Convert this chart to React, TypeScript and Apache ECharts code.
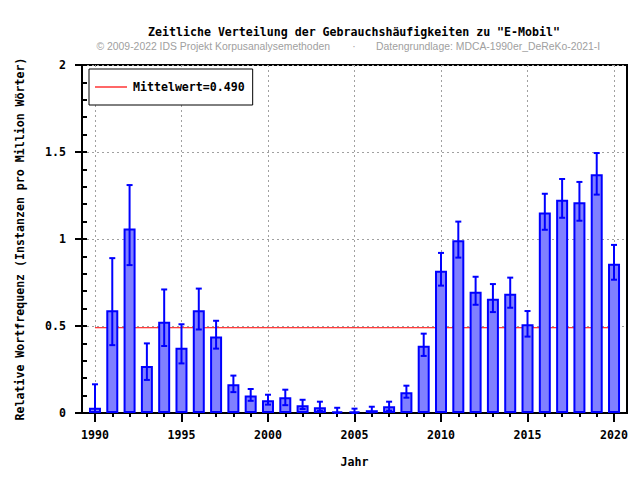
import React, { useEffect, useRef } from "react";
import * as echarts from "echarts";

const years = [1990, 1991, 1992, 1993, 1994, 1995, 1996, 1997, 1998, 1999, 2000, 2001, 2002, 2003, 2004, 2005, 2006, 2007, 2008, 2009, 2010, 2011, 2012, 2013, 2014, 2015, 2016, 2017, 2018, 2019, 2020];
const values = [0.03, 0.59, 1.06, 0.27, 0.525, 0.375, 0.59, 0.44, 0.165, 0.1, 0.073, 0.09, 0.045, 0.033, 0.01, 0.01, 0.016, 0.039, 0.119, 0.387, 0.818, 0.993, 0.697, 0.657, 0.686, 0.51, 1.153, 1.226, 1.211, 1.372, 0.858];
const errLow = [0.005, 0.39, 0.85, 0.19, 0.385, 0.285, 0.48, 0.37, 0.12, 0.07, 0.048, 0.045, 0.023, 0.013, 0.0, 0.0, 0.004, 0.013, 0.088, 0.328, 0.732, 0.893, 0.622, 0.58, 0.605, 0.439, 1.053, 1.122, 1.105, 1.255, 0.766];
const errHigh = [0.165, 0.89, 1.31, 0.4, 0.71, 0.51, 0.715, 0.53, 0.215, 0.138, 0.105, 0.134, 0.076, 0.065, 0.03, 0.025, 0.036, 0.065, 0.157, 0.456, 0.92, 1.1, 0.783, 0.741, 0.778, 0.586, 1.26, 1.345, 1.328, 1.494, 0.966];
const meanValue = 0.49;
const meanLabel = "Mittelwert=0.490";
const majorYears = [1990, 1995, 2000, 2005, 2010, 2015, 2020];

const titleText = 'Zeitliche Verteilung der Gebrauchshäufigkeiten zu "E-Mobil"';
const subLeft = "© 2009-2022 IDS Projekt Korpusanalysemethoden";
const subRight = "Datengrundlage: MDCA-1990er_DeReKo-2021-I";

const MONO = "'DejaVu Sans Mono', monospace";
const FS = 11.6;
const SUBFONT = "10.4px 'Liberation Sans', Arial, sans-serif";

export default function App() {
  const ref = useRef<HTMLDivElement>(null);
  useEffect(() => {
    if (!ref.current) return;
    const chart = echarts.init(ref.current, null, { renderer: "svg" });
    const gridStyle = { color: "#a0a0a0", width: 1, type: [2, 3] as any };
    const option: any = {
      animation: false,
      backgroundColor: "#ffffff",
      title: [
        {
          text: titleText,
          left: 354,
          top: 26,
          padding: 0,
          textAlign: "center",
          textStyle: { fontFamily: MONO, fontWeight: "bold", fontSize: FS, color: "#000" },
        },
      ],
      graphic: [
        {
          type: "text",
          x: 330,
          y: 46,
          style: { text: subLeft, align: "right", verticalAlign: "middle", fill: "#a0a0a0", font: SUBFONT },
        },
        {
          type: "text",
          x: 354,
          y: 46,
          style: { text: "·", align: "center", verticalAlign: "middle", fill: "#a0a0a0", font: SUBFONT },
        },
        {
          type: "text",
          x: 376,
          y: 46,
          style: { text: subRight, align: "left", verticalAlign: "middle", fill: "#a0a0a0", font: SUBFONT },
        },
      ],
      legend: {
        data: [{ name: meanLabel, icon: "rect" }],
        left: 89,
        top: 69,
        orient: "vertical",
        backgroundColor: "#fff",
        borderColor: "#000",
        borderWidth: 1,
        padding: [11, 8, 11, 6],
        itemWidth: 32,
        itemHeight: 1.2,
        itemGap: 0,
        itemStyle: { color: "#ff0000", borderWidth: 0 },
        textStyle: { fontFamily: MONO, fontWeight: "bold", fontSize: FS, color: "#000", padding: [0, 0, 0, 1], lineHeight: 14 },
      },
      grid: {
        left: 82,
        right: 13,
        top: 65,
        bottom: 67,
        show: true,
        borderColor: "#000",
        borderWidth: 2,
        backgroundColor: "transparent",
      },
      xAxis: [
        {
          type: "value",
          min: 1989.25,
          max: 2020.75,
          minInterval: 5,
          maxInterval: 5,
          name: "Jahr",
          nameLocation: "middle",
          nameGap: 43,
          nameTextStyle: { fontFamily: MONO, fontWeight: "bold", fontSize: FS, color: "#000" },
          axisLine: { show: true, lineStyle: { color: "#000", width: 2 } },
          axisTick: { show: true, length: 9, lineStyle: { color: "#000", width: 2 }, customValues: majorYears },
          axisLabel: {
            margin: 16,
            fontFamily: MONO,
            fontWeight: "bold",
            fontSize: FS,
            color: "#000",
            customValues: majorYears,
            formatter: (v: number) => (v % 5 === 0 ? String(v) : ""),
          },
          splitLine: { show: true, lineStyle: gridStyle },
        },
        {
          type: "value",
          min: 1989.25,
          max: 2020.75,
          minInterval: 1,
          maxInterval: 1,
          position: "bottom",
          axisLine: { show: false },
          axisTick: { show: true, length: 4, lineStyle: { color: "#000", width: 2 }, customValues: years },
          axisLabel: { show: false },
          splitLine: { show: false },
        },
      ],
      yAxis: [
        {
          type: "value",
          min: 0,
          max: 2,
          interval: 0.5,
          position: "left",
          name: "Relative Wortfrequenz (Instanzen pro Million Wörter)",
          nameLocation: "middle",
          nameGap: 56,
          nameTextStyle: { fontFamily: MONO, fontWeight: "bold", fontSize: FS, color: "#000" },
          axisLine: { show: true, lineStyle: { color: "#000", width: 2 } },
          axisTick: { show: true, length: 7, lineStyle: { color: "#000", width: 2 } },
          axisLabel: { margin: 16, fontFamily: MONO, fontWeight: "bold", fontSize: FS, color: "#000" },
          splitLine: { show: true, lineStyle: gridStyle },
        },
        {
          type: "value",
          min: 0,
          max: 2,
          interval: 0.1,
          position: "left",
          axisLine: { show: false },
          axisTick: { show: true, inside: true, length: 5, lineStyle: { color: "#000", width: 2 } },
          axisLabel: { show: false },
          splitLine: { show: false },
        },
      ],
      series: [
        {
          name: meanLabel,
          type: "line",
          z: 1,
          xAxisIndex: 0,
          yAxisIndex: 0,
          symbol: "none",
          silent: true,
          lineStyle: { color: "#ff0000", width: 1 },
          itemStyle: { color: "#ff0000" },
          data: [
            [years[0], meanValue],
            [years[years.length - 1], meanValue],
          ],
        },
        {
          name: "Frequenz",
          type: "bar",
          z: 2,
          xAxisIndex: 0,
          yAxisIndex: 0,
          barWidth: 12,
          itemStyle: { color: "#8080ff", borderColor: "#0000ff", borderWidth: 2 },
          data: years.map((y, i) => [y, values[i]]),
        },
        {
          name: "Fehler",
          type: "custom",
          z: 3,
          xAxisIndex: 0,
          yAxisIndex: 0,
          encode: { x: 0, y: [1, 2] },
          renderItem: (params: any, api: any) => {
            const x = api.value(0);
            const lo = api.coord([x, api.value(1)]);
            const hi = api.coord([x, api.value(2)]);
            const cap = 3;
            const style = { stroke: "#0000ff", lineWidth: 2 };
            return {
              type: "group",
              children: [
                { type: "line", shape: { x1: lo[0], y1: lo[1], x2: hi[0], y2: hi[1] }, style },
                { type: "line", shape: { x1: lo[0] - cap, y1: lo[1], x2: lo[0] + cap, y2: lo[1] }, style },
                { type: "line", shape: { x1: hi[0] - cap, y1: hi[1], x2: hi[0] + cap, y2: hi[1] }, style },
              ],
            };
          },
          data: years.map((y, i) => [y, errLow[i], errHigh[i]]),
        },
      ],
    };
    chart.setOption(option);
    return () => chart.dispose();
  }, []);
  return (
    <div
      ref={ref}
      style={{ position: "fixed", left: 0, top: 0, width: 640, height: 480, background: "#fff" }}
    />
  );
}
